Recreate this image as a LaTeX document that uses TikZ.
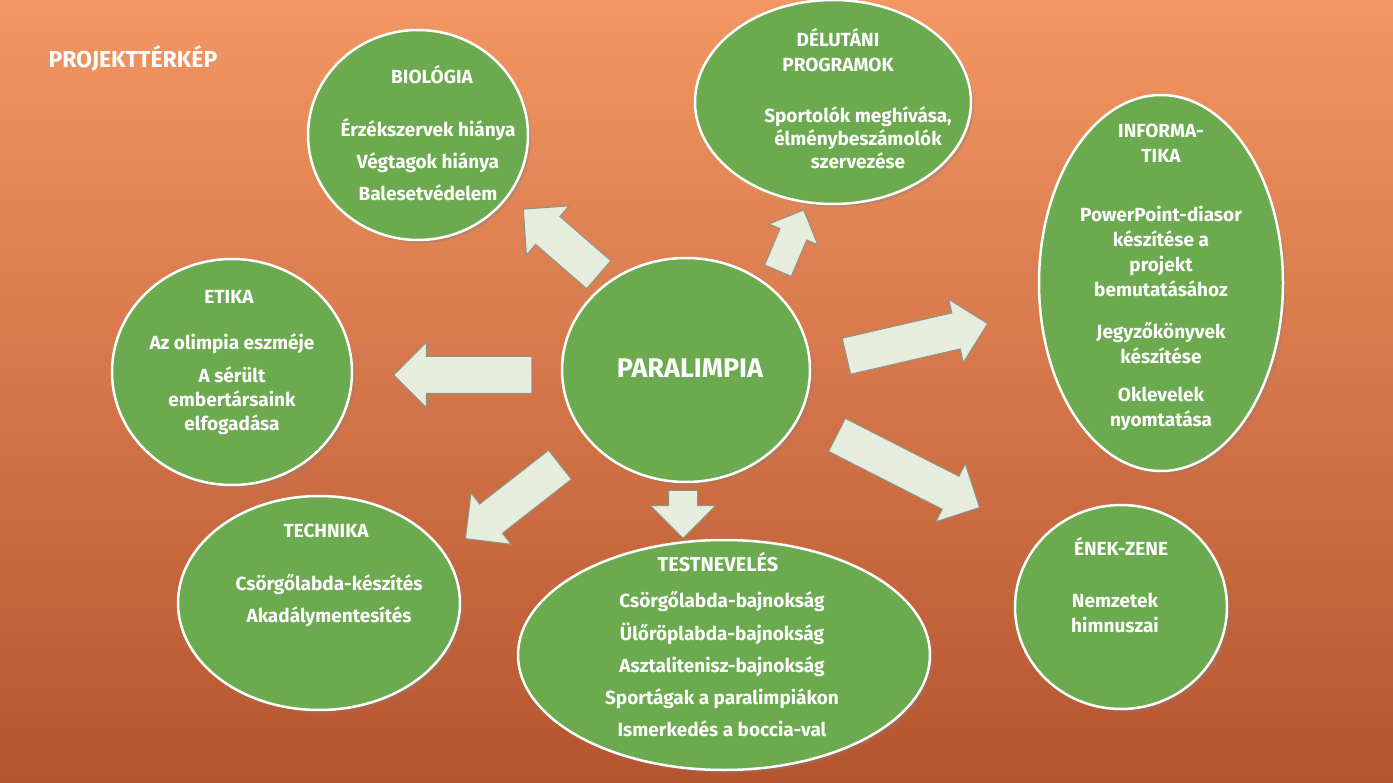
\documentclass[tikz,border=0pt]{standalone}
\usepackage{fontspec}
\setmainfont{Fira Sans}
\usetikzlibrary{shapes.geometric,shapes.arrows,shadows}
\definecolor{gfill}{HTML}{6CAA50}
\definecolor{afill}{HTML}{E6EDDC}
\definecolor{aline}{HTML}{8C9486}
\definecolor{bgtop}{HTML}{F29662}
\definecolor{bgmid}{HTML}{E8661E}
\definecolor{bgbot}{HTML}{B55530}
\tikzset{
 blob/.style={ellipse,draw=white,line width=2.5pt,fill=gfill,inner sep=0pt,drop shadow={opacity=0.35,shadow xshift=3pt,shadow yshift=-3pt}},
 txt/.style={text=white,font=\bfseries\fontsize{19}{22}\selectfont,align=center},
 barrow/.style={single arrow,draw=aline,line width=1pt,fill=afill,inner xsep=0pt,inner ysep=18pt,single arrow head extend=14pt,anchor=center}
}
\begin{document}
\begin{tikzpicture}[x=1pt,y=-1pt]
\shade[top color=bgtop, middle color=bgmid, bottom color=bgbot] (0,0) rectangle (1393,783);
\useasboundingbox (0,0) rectangle (1393,783);
\node[txt,font=\bfseries\fontsize{23}{26}\selectfont,anchor=west] (title) at (45,58) {PROJEKTTÉRKÉP};
% ellipses
\node[blob,minimum width=220pt,minimum height=210pt] (bio) at (418,135) {};
\node[blob,minimum width=276pt,minimum height=204pt] (del) at (833,102) {};
\node[blob,minimum width=244pt,minimum height=376pt] (inf) at (1161,283) {};
\node[blob,minimum width=240pt,minimum height=226pt] (eti) at (232,372) {};
\node[blob,minimum width=248pt,minimum height=224pt] (par) at (686,370) {};
\node[blob,minimum width=282pt,minimum height=214pt] (tec) at (319,603) {};
\node[blob,minimum width=412pt,minimum height=230pt] (tes) at (724,655) {};
\node[blob,minimum width=212pt,minimum height=204pt] (ene) at (1121,607) {};
% arrows
\node[barrow,minimum height=100pt,rotate=139] (a1) at (568,248) {};
\node[barrow,minimum height=66pt,inner ysep=14pt,single arrow head extend=12pt,rotate=67] (a2) at (788,247) {};
\node[barrow,minimum height=138pt,rotate=180] (a3) at (472,375) {};
\node[barrow,minimum height=145pt,rotate=13] (a4) at (908,342) {};
\node[barrow,minimum height=160pt,rotate=-27] (a5) at (900,467) {};
\node[barrow,minimum height=48pt,inner ysep=14pt,single arrow head extend=18pt,rotate=-90] (a6) at (683,507) {};
\node[barrow,minimum height=120pt,rotate=218] (a7) at (520,496) {};
% texts
\node[txt] (tbio) at (432,75) {BIOLÓGIA};
\node[txt,font=\bfseries\fontsize{19}{32}\selectfont,anchor=north] (lbio) at (428,115) {Érzékszervek hiánya\\Végtagok hiánya\\Balesetvédelem};
\node[txt,font=\bfseries\fontsize{19}{25}\selectfont] (tdel) at (838,50) {DÉLUTÁNI\\PROGRAMOK};
\node[txt,font=\bfseries\fontsize{19}{23}\selectfont] (ldel) at (858,138) {Sportolók meghívása,\\élménybeszámolók\\szervezése};
\node[txt,font=\bfseries\fontsize{19}{25}\selectfont] (tinf) at (1161,143) {INFORMA-\\TIKA};
\node[txt,font=\bfseries\fontsize{19}{25}\selectfont,anchor=north] (linf) at (1161,203) {PowerPoint-diasor\\készítése a\\projekt\\bemutatásához};
\node[txt,font=\bfseries\fontsize{19}{25}\selectfont] (linf2) at (1161,343) {Jegyzőkönyvek\\készítése};
\node[txt,font=\bfseries\fontsize{19}{25}\selectfont] (linf3) at (1161,409) {Oklevelek\\nyomtatása};
\node[txt] (teti) at (229,297) {ETIKA};
\node[txt] (leti1) at (232,344) {Az olimpia eszméje};
\node[txt,font=\bfseries\fontsize{19}{24}\selectfont,anchor=north] (leti2) at (232,363) {A sérült\\embertársaink\\elfogadása};
\node[txt,font=\bfseries\fontsize{27}{30}\selectfont] (tpar) at (690,368) {PARALIMPIA};
\node[txt] (ttec) at (326,531) {TECHNIKA};
\node[txt,font=\bfseries\fontsize{19}{32}\selectfont,anchor=north] (ltec) at (329,571) {Csörgőlabda-készítés\\Akadálymentesítés};
\node[txt,font=\bfseries\fontsize{20}{22}\selectfont] (ttes) at (718,562) {TESTNEVELÉS};
\node[txt,font=\bfseries\fontsize{19}{32.2}\selectfont,anchor=north] (ltes) at (722,588) {Csörgőlabda-bajnokság\\Ülőröplabda-bajnokság\\Asztalitenisz-bajnokság\\Sportágak a paralimpiákon\\Ismerkedés a boccia-val};
\node[txt] (tene) at (1121,546) {ÉNEK-ZENE};
\node[txt,font=\bfseries\fontsize{19}{25}\selectfont] (lene) at (1115,613) {Nemzetek\\himnuszai};
\end{tikzpicture}
\end{document}
